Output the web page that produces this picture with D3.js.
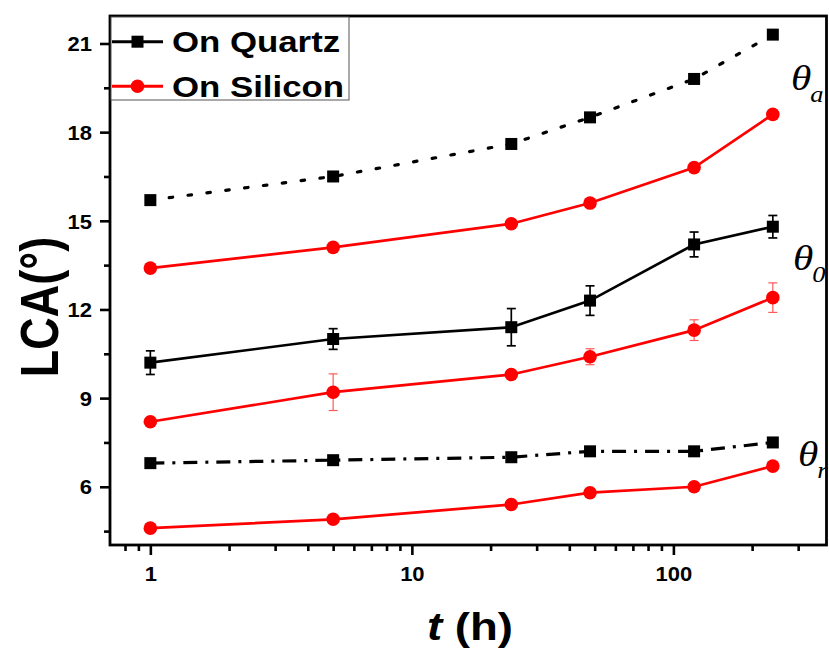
<!DOCTYPE html>
<html>
<head>
<meta charset="utf-8">
<script src="https://d3js.org/d3.v7.min.js"></script>
<style>
  body { margin: 0; background: #fff; }
  text { font-family: "Liberation Sans", Arial, sans-serif; font-weight: bold; }
</style>
</head>
<body>
<svg id="chart" width="829" height="652"></svg>
<script>
// data
const times = [1, 5, 24, 48, 120, 240];
const quartzA = [15.7, 16.5, 17.6, 18.5, 19.8, 21.3];
const siliconA = [13.4, 14.1, 14.9, 15.6, 16.8, 18.6];
const quartz0 = [10.2, 11.0, 11.4, 12.3, 14.2, 14.8];
const quartz0Err = [0.4, 0.35, 0.63, 0.5, 0.42, 0.38];
const silicon0 = [8.2, 9.2, 9.8, 10.4, 11.3, 12.4];
const silicon0Err = [0.08, 0.62, 0.08, 0.27, 0.35, 0.5];
const quartzR = [6.8, 6.9, 7.0, 7.2, 7.2, 7.5];
const siliconR = [4.6, 4.9, 5.4, 5.8, 6.0, 6.7];

const yTicks = [6, 9, 12, 15, 18, 21];
const yMinor = [4.5, 7.5, 10.5, 13.5, 16.5, 19.5];
const xTicks = [1, 10, 100];
const xMinor = [0.8, 0.9, 2, 3, 4, 5, 6, 7, 8, 9, 20, 30, 40, 50, 60, 70, 80, 90, 200, 300];
const legendNames = ["On Quartz", "On Silicon"];
const thetaSubs = ["a", "0", "r"];

const pLeft = 110, pRight = 826.5, pTop = 16, pBottom = 545;
const SX = 1.2; // the figure is a bit stretched horizontally

const svg = d3.select("#chart");
const x = d3.scaleLog().domain([0.701, 385]).range([pLeft, pRight]);
const y = d3.scaleLinear().domain([4.03, 21.93]).range([pBottom, pTop]);

// series definitions
const series = [
  { v: quartzA, color: "#000", dash: "3.5,15.5", cap: "round", marker: "sq" },
  { v: siliconA, color: "#ff0000", dash: null, marker: "ci" },
  { v: quartz0, err: quartz0Err, errColor: "#000", color: "#000", dash: null, marker: "sq" },
  { v: silicon0, err: silicon0Err, errColor: "#ff5a5a", color: "#ff0000", dash: null, marker: "ci" },
  { v: quartzR, color: "#000", dash: "14,8,3,8", marker: "sq" },
  { v: siliconR, color: "#ff0000", dash: null, marker: "ci" }
];

const line = d3.line().x(d => x(d[0])).y(d => y(d[1]));

function drawMarker(g, type, cx, cy, color) {
  if (type === "sq") {
    g.append("rect").attr("x", cx - 6).attr("y", cy - 6)
      .attr("width", 12).attr("height", 12).attr("fill", color);
  } else {
    g.append("circle").attr("cx", cx).attr("cy", cy).attr("r", 6.8).attr("fill", color);
  }
}

const plot = svg.append("g");
series.forEach(s => {
  const pts = times.map((t, i) => [t, s.v[i]]);
  plot.append("path")
    .attr("d", line(pts))
    .attr("fill", "none")
    .attr("stroke", s.color)
    .attr("stroke-width", s.dash ? 3.2 : 2.7)
    .attr("stroke-linecap", s.cap || "butt")
    .attr("stroke-dasharray", s.dash);
  if (s.err) {
    pts.forEach((p, i) => {
      const cx = x(p[0]), y1 = y(p[1] - s.err[i]), y2 = y(p[1] + s.err[i]);
      const eg = plot.append("g").attr("stroke", s.errColor)
        .attr("stroke-width", s.errColor === "#000" ? 1.7 : 1.2);
      eg.append("line").attr("x1", cx).attr("x2", cx).attr("y1", y1).attr("y2", y2);
      eg.append("line").attr("x1", cx - 4.5).attr("x2", cx + 4.5).attr("y1", y1).attr("y2", y1);
      eg.append("line").attr("x1", cx - 4.5).attr("x2", cx + 4.5).attr("y1", y2).attr("y2", y2);
    });
  }
  pts.forEach(p => drawMarker(plot, s.marker, x(p[0]), y(p[1]), s.color));
});

// axes
const yAxis = svg.append("g").attr("transform", `translate(${pLeft},0)`)
  .call(d3.axisLeft(y).tickValues(yTicks).tickSize(10).tickPadding(8).tickFormat(d3.format("d")));
const yAxisMinor = svg.append("g").attr("transform", `translate(${pLeft},0)`)
  .call(d3.axisLeft(y).tickValues(yMinor).tickSize(6).tickFormat(""));
const xAxis = svg.append("g").attr("transform", `translate(0,${pBottom})`)
  .call(d3.axisBottom(x).tickValues(xTicks).tickSize(10).tickPadding(8).tickFormat(d3.format("d")));
const xAxisMinor = svg.append("g").attr("transform", `translate(0,${pBottom})`)
  .call(d3.axisBottom(x).tickValues(xMinor).tickSize(6).tickFormat(""));

[yAxis, yAxisMinor, xAxis, xAxisMinor].forEach(a => {
  a.select(".domain").remove();
  a.selectAll("line").attr("stroke", "#000").attr("stroke-width", 2.6);
  a.selectAll("text").attr("fill", "#000").style("font-size", "20px");
});
// widen tick labels a little, like the stretched original
yAxis.selectAll("text").attr("dy", "0.36em")
  .attr("transform", function() { return `translate(${+this.getAttribute("x")},0) scale(1.1,1) translate(${-this.getAttribute("x")},0)`; });
xAxis.selectAll("text").attr("dy", "0.9em")
  .attr("transform", "scale(1.1,1)");

// frame
svg.append("rect").attr("x", pLeft).attr("y", pTop)
  .attr("width", pRight - pLeft).attr("height", pBottom - pTop)
  .attr("fill", "none").attr("stroke", "#000").attr("stroke-width", 2.8);

// legend
const lg = svg.append("g");
lg.append("rect").attr("x", pLeft + 1).attr("y", pTop + 1).attr("width", 238).attr("height", 83)
  .attr("fill", "#fff").attr("stroke", "#555").attr("stroke-width", 1);
[series[0], series[1]].forEach((s, i) => {
  const ly = 41.7 + i * 44.5;
  lg.append("line").attr("x1", 112).attr("x2", 163).attr("y1", ly).attr("y2", ly)
    .attr("stroke", s.color).attr("stroke-width", 3);
  drawMarker(lg, s.marker, 137.5, ly, s.color);
  lg.append("text")
    .attr("transform", `translate(172,${ly}) scale(${SX},1)`)
    .attr("dy", "0.36em")
    .style("font-size", "29px")
    .text(legendNames[i]);
});

// theta labels
const thetaPos = [[791, 90], [793, 270], [798, 466]];
thetaSubs.forEach((sub, i) => {
  const t = svg.append("text")
    .attr("transform", `translate(${thetaPos[i][0]},${thetaPos[i][1]}) scale(1.15,1)`)
    .style("font-family", "'Liberation Serif', 'Times New Roman', serif")
    .style("font-style", "italic").style("font-weight", "normal")
    .style("font-size", "36px");
  t.append("tspan").text("\u03b8");
  t.append("tspan").attr("dy", 12).attr("dx", -1).style("font-size", "23px").text(sub);
});

// axis titles
svg.append("text")
  .attr("transform", `translate(58,307) rotate(-90) scale(1,${SX})`)
  .attr("text-anchor", "middle")
  .style("font-size", "45px")
  .text("LCA(\u00b0)");

const xt = svg.append("text")
  .attr("transform", `translate(470,640) scale(${SX},1)`)
  .attr("text-anchor", "middle")
  .style("font-size", "38px");
xt.append("tspan").style("font-style", "italic").text("t");
xt.append("tspan").text(" (h)");
</script>
</body>
</html>
